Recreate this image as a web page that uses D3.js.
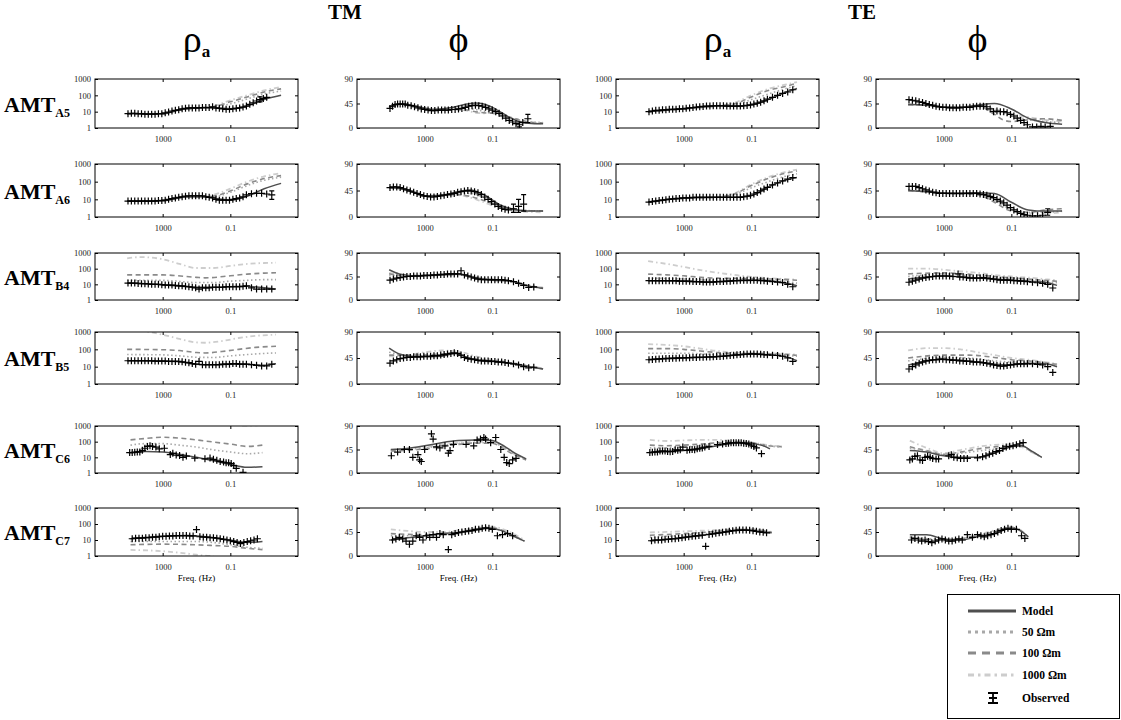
<!DOCTYPE html>
<html>
<head>
<meta charset="utf-8">
<script src="https://cdn.jsdelivr.net/npm/d3@7"></script>
<style>
  body { margin: 0; background: #fff; }
  text { font-family: "Liberation Serif", "Times New Roman", serif; }
</style>
</head>
<body>
<div id="chart"></div>
<script>
// frame and panel geometry
const FRAME_WIDTH = 1121;
const FRAME_HEIGHT = 720;
const COL_X = [95, 357, 616, 876];
const COL_W = 203;
const ROW_Y = [79, 164, 253, 332, 426, 508];
const ROW_H = [49, 53, 47, 52, 47, 48];

// labels
const stations = ["A5", "A6", "B4", "B5", "C6", "C7"];
const kinds = ["rho", "phi", "rho", "phi"];
const rhoTicks = [1, 10, 100, 1000];
const phiTicks = [0, 45, 90];
const freqTicks = [1000, 0.1];
const legendNames = ["Model", "50 \u03A9m", "100 \u03A9m", "1000 \u03A9m", "Observed"];

// data: [log10 freq, value] ; obs may carry [f, v, lo, hi] for error bars
const a5TmRho = {
  model: [[5.1,7.5],[4,7.5],[3,7.5],[2,13],[1,17],[0,17],[-1,15],[-2,22],[-3,55],[-4,100]],
  r50: [[5.1,7.5],[3,7.5],[2,13],[1,17],[0,19],[-1,30],[-2,60],[-3,120],[-4,180]],
  r100: [[5.1,7.5],[3,7.5],[2,13],[1,17],[0,20],[-1,40],[-2,80],[-3,160],[-4,250]],
  r1000: [[5.1,7.5],[3,7.5],[2,13],[1,17],[0,22],[-1,50],[-2,100],[-3,200],[-4,320]],
  obs: [[5.05,7.5],[4.85,8],[4.65,8],[4.45,7.5],[4.25,7.5],[4.05,7],[3.85,7],[3.65,7],[3.45,7],[3.25,7.5],[3.05,7.5],[2.85,8.5],[2.65,9.5],[2.45,11],[2.25,12],[2.05,13],[1.85,15],[1.65,16],[1.45,17],[1.25,17],[1.05,17],[0.85,17],[0.65,18],[0.45,18],[0.25,18],[0.05,20],[-0.15,17],[-0.35,16],[-0.55,15],[-0.75,14],[-0.95,14],[-1.15,15],[-1.35,16],[-1.55,17],[-1.75,19],[-1.95,22],[-2.15,28],[-2.35,35],[-2.55,45],[-2.75,55,40,80],[-2.95,65],[-3.15,75]]
};
const a5TmPhi = {
  model: [[5.1,38],[4.5,44],[3.5,40],[2.5,34],[1.5,37],[0.5,44],[0,46],[-0.5,44],[-1,38],[-2,20],[-2.8,10],[-3.5,8],[-4,8]],
  r50: [[5.1,38],[4.5,44],[3.5,40],[2.5,34],[1.5,35],[0.5,36],[0,34],[-0.5,31],[-1,30],[-2,20],[-3,12],[-4,10]],
  r100: [[5.1,38],[4.5,44],[3.5,40],[2.5,34],[1.5,34],[0.5,33],[0,30],[-0.5,28],[-1,27],[-2,20],[-3,12],[-4,9]],
  r1000: [[5.1,38],[4.5,44],[3.5,40],[2.5,34],[1.5,34],[0.5,32],[0,28],[-0.5,27],[-1,28],[-2,18],[-3,10],[-4,8]],
  obs: [[5.05,36],[4.9,40],[4.75,43],[4.6,44],[4.45,44],[4.3,44],[4.15,44],[4.0,42],[3.8,41],[3.6,39],[3.4,37],[3.2,35],[3.0,34],[2.8,33],[2.6,32],[2.4,32],[2.2,33],[2.0,33],[1.8,33],[1.6,33],[1.4,34],[1.2,34],[1.0,35],[0.8,36],[0.6,38],[0.4,40],[0.2,41],[0.0,42],[-0.2,41],[-0.4,40],[-0.6,38],[-0.8,35],[-1.0,33],[-1.2,30],[-1.4,27],[-1.6,22],[-1.8,18],[-2.0,14],[-2.2,11],[-2.4,8],[-2.6,6,2,11],[-2.8,10],[-3.1,17,10,25]]
};
const a5TeRho = {
  model: [[5.1,10],[3,15],[1,22],[-0.5,22],[-1.2,28],[-2,55],[-3,150],[-3.7,260]],
  r50: [[5.1,10],[3,15],[1,22],[0,26],[-1,55],[-2,120],[-3,250],[-3.7,400]],
  r100: [[5.1,10],[3,15],[1,23],[0,30],[-1,80],[-2,200],[-3,350],[-3.7,550]],
  r1000: [[5.1,10],[3,15],[1,23],[0,35],[-1,100],[-2,250],[-3,450],[-3.7,650]],
  obs: [[5.05,10],[4.85,11],[4.65,12],[4.45,12],[4.25,13],[4.05,13],[3.85,14],[3.65,14],[3.45,14],[3.25,15],[3.05,15],[2.85,16],[2.65,17],[2.45,18],[2.25,19],[2.05,20],[1.85,21],[1.65,22],[1.45,22],[1.25,23],[1.05,23],[0.85,23],[0.65,23],[0.45,22],[0.25,22],[0.05,22],[-0.15,22],[-0.35,22],[-0.55,23],[-0.75,24],[-0.95,26],[-1.15,29],[-1.35,33],[-1.55,38],[-1.75,46],[-1.95,58],[-2.25,75],[-2.55,100],[-2.85,130],[-3.15,160],[-3.45,220]]
};
const a5TePhi = {
  model: [[5.1,43],[4,42],[3,38],[2,38],[1,42],[0,45],[-1,35],[-2,18],[-3,10],[-4,7]],
  r50: [[5.1,43],[4,42],[3,38],[2,38],[1,40],[0,30],[-1,22],[-2,15],[-3,12],[-4,10]],
  r100: [[5.1,43],[4,42],[3,38],[2,38],[1,40],[0,25],[-0.5,15],[-1,12],[-2,15],[-3,17],[-4,14]],
  r1000: [[5.1,43],[4,42],[3,38],[2,38],[1,40],[0,35],[-1,25],[-2,20],[-3,15],[-4,12]],
  obs: [[5.05,52],[4.85,51],[4.65,50],[4.45,48],[4.25,47],[4.05,45],[3.85,43],[3.65,42],[3.45,40],[3.25,39],[3.05,38],[2.85,38],[2.65,37],[2.45,37],[2.25,37],[2.05,37],[1.85,38],[1.65,38],[1.45,38],[1.25,39],[1.05,40],[0.85,40],[0.65,40],[0.45,39],[0.25,35],[0.05,30],[-0.15,31],[-0.35,30],[-0.55,30],[-0.75,28],[-0.95,25],[-1.15,22],[-1.35,18],[-1.55,14],[-1.75,10],[-1.95,6],[-2.25,2],[-2.5,2],[-2.75,3],[-3.0,2],[-3.3,3]]
};

const a6TmRho = {
  model: [[5.1,8],[3,8.5],[1.5,14],[0.5,14],[-0.5,10],[-1,9],[-2,15],[-3,40],[-4,80]],
  r50: [[5.1,8],[3,8.5],[1.5,14],[0.5,14],[0,14],[-1,25],[-2,60],[-3,120],[-4,180]],
  r100: [[5.1,8],[3,8.5],[1.5,14],[0.5,14],[0,15],[-1,30],[-2,75],[-3,150],[-4,220]],
  r1000: [[5.1,8],[3,8.5],[1.5,14],[0.5,15],[0,18],[-1,40],[-2,100],[-3,200],[-4,300]],
  obs: [[5.05,8],[4.85,8],[4.65,8],[4.45,8],[4.25,8],[4.05,8],[3.85,8],[3.65,8],[3.45,8],[3.25,8.5],[3.05,8.5],[2.85,9],[2.65,10],[2.45,11],[2.25,12],[2.05,13],[1.85,14],[1.65,15],[1.45,16],[1.25,16],[1.05,16],[0.85,16],[0.65,16],[0.45,14],[0.25,13],[0.05,12],[-0.15,10],[-0.35,9],[-0.55,9],[-0.75,9],[-0.95,9],[-1.15,10],[-1.35,11],[-1.55,12],[-1.75,14],[-1.95,18],[-2.25,21],[-2.55,22],[-2.85,22],[-3.15,20],[-3.45,18,10,30]]
};
const a6TmPhi = {
  model: [[5.1,50],[4,46],[3,36],[2,37],[1,43],[0.3,46],[-0.5,38],[-1.5,20],[-2.5,12],[-3.5,10],[-4,10]],
  r50: [[5.1,50],[4,46],[3,36],[2,37],[1,40],[0.3,40],[-0.5,33],[-1.5,18],[-2.5,12],[-4,10]],
  r100: [[5.1,50],[4,46],[3,36],[2,37],[1,38],[0.3,35],[-0.5,28],[-1.5,18],[-2.5,12],[-4,10]],
  r1000: [[5.1,50],[4,46],[3,36],[2,36],[1,37],[0.3,33],[-0.5,25],[-1.5,15],[-2.5,10],[-4,8]],
  obs: [[5.05,50],[4.85,51],[4.65,51],[4.45,50],[4.25,48],[4.05,46],[3.85,44],[3.65,42],[3.45,40],[3.25,38],[3.05,36],[2.85,35],[2.65,34],[2.45,34],[2.25,35],[2.05,36],[1.85,37],[1.65,38],[1.45,39],[1.25,40],[1.05,42],[0.85,43],[0.65,44],[0.45,45],[0.25,44],[0.05,43],[-0.15,41],[-0.35,38],[-0.55,34],[-0.75,30],[-0.95,26],[-1.15,22],[-1.35,18],[-1.55,15],[-1.75,13],[-1.95,12],[-2.25,14,8,22],[-2.55,18,8,30],[-2.85,22,10,38]]
};
const a6TeRho = {
  model: [[5.1,7],[3,12],[1,13],[0,13],[-1,16],[-2,50],[-3,120],[-3.7,170]],
  r50: [[5.1,7],[3,12],[1,13],[0,18],[-1,45],[-2,100],[-3,200],[-3.7,280]],
  r100: [[5.1,7],[3,12],[1,13],[0,20],[-1,60],[-2,150],[-3,300],[-3.7,400]],
  r1000: [[5.1,7],[3,12],[1,14],[0,22],[-1,70],[-2,180],[-3,350],[-3.7,480]],
  obs: [[5.05,7],[4.85,7.5],[4.65,8],[4.45,8.5],[4.25,9],[4.05,9.5],[3.85,10],[3.65,10.5],[3.45,11],[3.25,11],[3.05,12],[2.85,12],[2.65,12],[2.45,13],[2.25,13],[2.05,13],[1.85,13],[1.65,13],[1.45,13],[1.25,13],[1.05,13],[0.85,13],[0.65,13],[0.45,13],[0.25,13],[0.05,13],[-0.15,13],[-0.35,13],[-0.55,14],[-0.75,15],[-0.95,17],[-1.15,20],[-1.35,24],[-1.55,30],[-1.75,38],[-1.95,48],[-2.25,65],[-2.55,85],[-2.85,110],[-3.15,140],[-3.45,170]]
};
const a6TePhi = {
  model: [[5.1,45],[4,43],[2.5,40],[1,41],[0,40],[-1,25],[-2,12],[-3,10],[-4,10]],
  r50: [[5.1,45],[4,43],[2.5,40],[1,38],[0,30],[-1,15],[-2,8],[-3,8],[-4,10]],
  r100: [[5.1,45],[4,43],[2.5,40],[1,38],[0,25],[-1,10],[-2,8],[-3,12],[-4,14]],
  r1000: [[5.1,45],[4,43],[2.5,40],[1,39],[0,28],[-1,12],[-2,6],[-3,6],[-4,8]],
  obs: [[5.05,52],[4.85,52],[4.65,52],[4.45,50],[4.25,48],[4.05,46],[3.85,44],[3.65,42],[3.45,41],[3.25,40],[3.05,40],[2.85,40],[2.65,40],[2.45,40],[2.25,40],[2.05,40],[1.85,40],[1.65,40],[1.45,40],[1.25,40],[1.05,40],[0.85,39],[0.65,38],[0.45,37],[0.25,35],[0.05,33],[-0.15,30],[-0.35,27],[-0.55,24],[-0.75,20],[-0.95,16],[-1.15,12],[-1.35,9],[-1.55,6],[-1.75,4],[-1.95,3],[-2.25,2],[-2.55,2],[-2.85,3],[-3.15,8,3,14]]
};

const b4TmRho = {
  model: [[5.1,12],[3,9.5],[1,6.5],[0,6.5],[-1,7],[-2,7.5],[-3,6],[-3.7,5]],
  r50: [[5.1,18],[3,18],[1,13],[0,13],[-1,16],[-2,18],[-3,20],[-3.7,20]],
  r100: [[5.1,40],[3,40],[1,28],[0.5,26],[-1,35],[-2,45],[-3,52],[-3.7,55]],
  r1000: [[5.1,450],[4.3,550],[3,400],[2,200],[1,110],[0,110],[-1,150],[-2,200],[-3,230],[-3.7,240]],
  obs: [[5.05,12],[4.85,12],[4.65,12],[4.45,11.5],[4.25,11],[4.05,11],[3.85,10.5],[3.65,10],[3.45,10],[3.25,10],[3.05,9.5],[2.85,9],[2.65,9],[2.45,9],[2.25,8.5],[2.05,8],[1.85,8],[1.65,7.5],[1.45,7],[1.25,6.5],[1.05,6],[0.85,5],[0.65,6],[0.45,6],[0.25,6],[0.05,6.5],[-0.15,6.5],[-0.35,6.5],[-0.55,6.5],[-0.75,7],[-0.95,7],[-1.15,7],[-1.35,7],[-1.55,7],[-1.75,7.5],[-1.95,8],[-2.25,6],[-2.55,5],[-2.85,5],[-3.15,5],[-3.45,5]]
};
const b4TmPhi = {
  model: [[5.1,58],[4.5,50],[3.5,46],[2,48],[1,50],[0,42],[-1,38],[-2,37],[-3,28],[-4,22]],
  r50: [[5.1,48],[4,45],[2,48],[1,50],[0,43],[-1,39],[-2,37],[-3,28],[-4,22]],
  r100: [[5.1,50],[4,46],[2,48],[1,49],[0,43],[-1,39],[-2,36],[-3,28],[-4,23]],
  r1000: [[5.1,52],[4,47],[2,48],[1,49],[0,44],[-1,40],[-2,37],[-3,29],[-4,24]],
  obs: [[5.05,38],[4.85,40],[4.65,42],[4.45,43],[4.25,44],[4.05,45],[3.85,45],[3.65,46],[3.45,46],[3.25,46],[3.05,47],[2.85,47],[2.65,47],[2.45,48],[2.25,48],[2.05,49],[1.85,49],[1.65,50],[1.45,50],[1.25,50],[1.05,50],[0.85,56],[0.65,48],[0.45,46],[0.25,44],[0.05,42],[-0.15,40],[-0.35,39],[-0.55,39],[-0.75,39],[-0.95,39],[-1.15,39],[-1.35,39],[-1.55,39],[-1.75,38],[-1.95,37],[-2.25,35],[-2.55,32],[-2.85,28],[-3.15,24],[-3.45,25]]
};
const b4TeRho = {
  model: [[5.1,17],[3,16],[1.5,14],[0,17],[-1.5,18],[-3,12],[-3.7,8]],
  r50: [[5.1,25],[3,22],[1,18],[0,19],[-2,19],[-3,15],[-3.7,12]],
  r100: [[5.1,45],[4,40],[3,35],[2,28],[1,25],[0,24],[-2,22],[-3,20],[-3.7,18]],
  r1000: [[5.1,300],[4,200],[3,130],[2,80],[1,55],[0,40],[-1,30],[-2,25],[-3,22],[-3.7,20]],
  obs: [[5.05,17],[4.85,17],[4.65,17],[4.45,17],[4.25,17],[4.05,17],[3.85,17],[3.65,17],[3.45,17],[3.25,16],[3.05,16],[2.85,16],[2.65,16],[2.45,15],[2.25,15],[2.05,15],[1.85,14],[1.65,14],[1.45,14],[1.25,14],[1.05,15],[0.85,15],[0.65,15],[0.45,16],[0.25,16],[0.05,17],[-0.15,17],[-0.35,18],[-0.55,18],[-0.75,18],[-0.95,18],[-1.15,18],[-1.35,18],[-1.55,17],[-1.75,17],[-1.95,16],[-2.25,15],[-2.55,14],[-2.85,13],[-3.15,10],[-3.45,7]]
};
const b4TePhi = {
  model: [[5.1,40],[4,44],[3,46],[2,44],[1,42],[0,40],[-1,38],[-2,36],[-3,34],[-3.7,28]],
  r50: [[5.1,45],[3,50],[1,45],[-1,41],[-3.7,33]],
  r100: [[5.1,50],[3,52],[1,48],[0,45],[-2,40],[-3.7,36]],
  r1000: [[5.1,60],[4,60],[3,58],[2,55],[1,52],[0,48],[-1,45],[-2,43],[-3,40],[-3.7,38]],
  obs: [[5.05,34],[4.85,36],[4.65,38],[4.45,40],[4.25,42],[4.05,43],[3.85,44],[3.65,45],[3.45,46],[3.25,46],[3.05,46],[2.85,46],[2.65,46],[2.45,45],[2.15,50],[2.05,44],[1.85,44],[1.65,43],[1.45,42],[1.25,42],[1.05,42],[0.85,42],[0.65,43],[0.45,42],[0.25,41],[0.05,40],[-0.15,39],[-0.35,38],[-0.55,38],[-0.75,38],[-0.95,38],[-1.15,37],[-1.35,37],[-1.55,36],[-1.75,36],[-1.95,35],[-2.25,34],[-2.55,33],[-2.85,32],[-3.15,30],[-3.45,23]]
};

const b5TmRho = {
  model: [[5.1,22],[3,21],[2,19],[1,14],[0,13],[-1,14],[-2,14],[-3,12],[-3.7,15]],
  r50: [[5.1,50],[3,48],[2,42],[1,35],[0,34],[-1,42],[-2,50],[-3,58],[-3.7,62]],
  r100: [[5.1,100],[3,95],[2,85],[1,65],[0.5,62],[-0.5,75],[-1.5,100],[-2.5,130],[-3.7,150]],
  r1000: [[5.1,1500],[4,1100],[3,700],[2,400],[1,250],[0.5,240],[-0.5,300],[-1.5,450],[-2.5,600],[-3.7,700]],
  obs: [[5.05,22],[4.85,22],[4.65,22],[4.45,22],[4.25,22],[4.05,22],[3.85,22],[3.65,22],[3.45,21],[3.25,21],[3.05,21],[2.85,21],[2.65,20],[2.45,20],[2.25,20],[2.05,20],[1.85,19],[1.65,18],[1.45,17],[1.25,15],[1.05,14],[0.85,20],[0.65,13],[0.45,13],[0.25,13],[0.05,13],[-0.15,13],[-0.35,13],[-0.55,14],[-0.75,14],[-0.95,14],[-1.15,15],[-1.35,15],[-1.55,14],[-1.75,14],[-1.95,14],[-2.25,13],[-2.55,12],[-2.85,11],[-3.15,11],[-3.45,14]]
};
const b5TmPhi = {
  model: [[5.1,62],[4.5,52],[3.5,47],[2,48],[1.2,53],[0.5,46],[-0.5,40],[-1.5,38],[-2.5,34],[-3.5,28],[-4,26]],
  r50: [[5.1,55],[3.5,48],[1.5,52],[0.5,45],[-1,40],[-2.5,34],[-4,26]],
  r100: [[5.1,50],[3,50],[1.5,53],[0.5,46],[-1,40],[-2.5,34],[-4,26]],
  r1000: [[5.1,48],[4,50],[3,55],[2,58],[1,56],[0,48],[-1,42],[-2,38],[-3,32],[-4,27]],
  obs: [[5.05,36],[4.85,40],[4.65,42],[4.45,44],[4.25,45],[4.05,46],[3.85,46],[3.65,47],[3.45,47],[3.25,47],[3.05,48],[2.85,48],[2.65,48],[2.45,49],[2.25,49],[2.05,50],[1.85,51],[1.65,52],[1.45,53],[1.25,54],[1.05,53],[0.85,50],[0.65,46],[0.45,44],[0.25,43],[0.05,42],[-0.15,41],[-0.35,40],[-0.55,40],[-0.75,40],[-0.95,39],[-1.15,39],[-1.35,38],[-1.55,38],[-1.75,37],[-1.95,36],[-2.25,35],[-2.55,33],[-2.85,30],[-3.15,28],[-3.45,29]]
};
const b5TeRho = {
  model: [[5.1,25],[3,32],[1,38],[0,46],[-1,54],[-2,48],[-3,38],[-3.7,22]],
  r50: [[5.1,60],[3,60],[1,50],[0,50],[-1,55],[-3,45],[-3.7,40]],
  r100: [[5.1,110],[4,110],[3,100],[2,80],[1,65],[0,58],[-1,58],[-2,55],[-3,50],[-3.7,45]],
  r1000: [[5.1,200],[4,180],[3,150],[2,110],[1,80],[0,65],[-1,60],[-2,58],[-3,55],[-3.7,50]],
  obs: [[5.05,25],[4.85,26],[4.65,27],[4.45,28],[4.25,29],[4.05,30],[3.85,30],[3.65,31],[3.45,31],[3.25,32],[3.05,32],[2.85,33],[2.65,33],[2.45,34],[2.25,34],[2.05,35],[1.85,35],[1.65,36],[1.45,36],[1.25,37],[1.05,38],[0.85,39],[0.65,40],[0.45,42],[0.25,44],[0.05,46],[-0.15,48],[-0.35,50],[-0.55,52],[-0.75,53],[-0.95,54],[-1.15,54],[-1.35,53],[-1.55,52],[-1.75,50],[-1.95,48],[-2.25,46],[-2.55,44],[-2.85,40],[-3.15,32],[-3.45,20]]
};
const b5TePhi = {
  model: [[5.1,33],[4,40],[3,43],[1.5,40],[0,34],[-1,33],[-2,36],[-3,35],[-3.7,30]],
  r50: [[5.1,40],[3,46],[1.5,45],[0,40],[-1,38],[-3,37],[-3.7,33]],
  r100: [[5.1,45],[3,50],[1.5,50],[0,46],[-1,42],[-2,40],[-3.7,34]],
  r1000: [[5.1,58],[4,62],[3,62],[2,60],[1,55],[0,50],[-1,45],[-2,42],[-3,38],[-3.7,35]],
  obs: [[5.05,26],[4.85,30],[4.65,33],[4.45,36],[4.25,38],[4.05,40],[3.85,41],[3.65,42],[3.45,42],[3.25,43],[3.05,43],[2.85,42],[2.65,42],[2.45,41],[2.25,41],[2.05,40],[1.85,40],[1.65,39],[1.45,39],[1.25,38],[1.05,38],[0.85,38],[0.65,37],[0.45,36],[0.25,35],[0.05,33],[-0.15,32],[-0.35,31],[-0.55,31],[-0.75,32],[-0.95,33],[-1.15,34],[-1.35,35],[-1.55,35],[-1.75,35],[-1.95,35],[-2.25,35],[-2.55,34],[-2.85,33],[-3.15,30],[-3.45,20]]
};

const c6TmRho = {
  model: [[4.9,20],[4,24],[3,22],[2,16],[1,10],[0,6],[-1,3.5],[-2,2.3],[-2.9,2.5]],
  r50: [[4.9,60],[4,75],[3,75],[2,60],[1,45],[0,30],[-1,22],[-2,17],[-2.9,20]],
  r100: [[4.9,130],[4,160],[3,190],[2,170],[1,130],[0,95],[-1,70],[-2,50],[-2.9,60]],
  r1000: [[4.9,4000],[3,5000],[1,3000],[-1,1500],[-1.8,1050],[-2.5,1100],[-2.9,1300]],
  obs: [[4.95,20],[4.8,20],[4.65,21],[4.5,22],[4.35,22],[4.2,28],[4.05,38],[3.9,50],[3.75,55],[3.6,50],[3.4,45],[3.2,35],[2.9,38],[2.55,15],[2.4,18],[2.2,14],[2.0,13],[1.8,10],[1.6,12],[1.1,9],[0.5,8],[0.2,9],[0.0,7.5],[-0.2,6.5],[-0.4,5.5],[-0.6,5],[-0.75,4.5],[-0.9,4.5],[-1.05,4],[-1.2,3],[-1.35,2],[-1.75,1.1]]
};
const c6TmPhi = {
  model: [[5,45],[4,47],[3,52],[2,58],[1,62],[0,63],[-1,62],[-1.5,55],[-2,45],[-2.5,35],[-3,27]],
  r50: [[5,44],[3,48],[1.5,55],[0,58],[-1,58],[-1.5,52],[-2,42],[-2.5,33],[-3,26]],
  r100: [[5,42],[3,46],[1.5,53],[0,57],[-1,57],[-1.5,50],[-2,40],[-3,25]],
  r1000: [[5,44],[3,50],[1.5,56],[0,60],[-1,60],[-1.5,52],[-2,42],[-3,26]],
  obs: [[4.97,33],[4.6,40],[4.2,45],[3.9,45],[3.7,30],[3.4,35],[3.3,25],[3.2,22],[3.0,45],[2.6,75],[2.5,65],[2.3,50],[2.1,48],[1.8,52],[1.6,38],[1.5,43],[1.3,55],[0.55,55],[0.1,52],[-0.1,63],[-0.3,65],[-0.5,68],[-0.6,65],[-0.9,58],[-1.2,68],[-1.5,45],[-1.7,30],[-1.85,20],[-2.0,18],[-2.2,25],[-2.4,28]]
};
const c6TeRho = {
  model: [[5,20],[4,23],[3,27],[2,35],[1,55],[0,80],[-0.7,85],[-1.3,70],[-1.8,50],[-2.1,35]],
  r50: [[5,40],[4,40],[3,45],[2,55],[1,70],[0,88],[-1,82],[-2,52],[-2.8,46]],
  r100: [[5,60],[4,55],[3,60],[2,70],[1,85],[0,95],[-1,85],[-2,55],[-2.8,48]],
  r1000: [[5,130],[4,110],[3,120],[2,130],[1,130],[0,110],[-1,90],[-2,60],[-2.8,50]],
  obs: [[5.0,20],[4.85,21],[4.7,22],[4.55,22],[4.4,25],[4.25,25],[4.1,25],[3.95,24],[3.8,23],[3.65,24],[3.5,30],[3.35,28],[3.2,30],[3.05,45],[2.8,28],[2.65,30],[2.5,32],[2.35,30],[2.2,35],[2.05,38],[1.9,40],[1.75,45],[1.5,50],[1.0,65],[0.7,70],[0.5,75],[0.35,80],[0.2,85],[0.05,85],[-0.1,85],[-0.25,85],[-0.4,85],[-0.55,80],[-0.7,75],[-0.85,70],[-1.0,60],[-1.15,50],[-1.3,40],[-1.6,17]]
};
const c6TePhi = {
  model: [[5,43],[4,40],[3,33],[2,30],[1,30],[0,38],[-1,50],[-1.6,52],[-2.2,42],[-2.8,30]],
  r50: [[5,48],[4,42],[3,35],[2,38],[1,42],[0,46],[-1,50],[-1.6,52],[-2.2,41],[-2.8,30]],
  r100: [[5,50],[4,43],[3,36],[2,40],[1,46],[0,50],[-1,52],[-1.6,52],[-2.2,41],[-2.8,30]],
  r1000: [[5,62],[4,48],[3,38],[2,44],[1,50],[0,54],[-1,55],[-1.6,50],[-2.2,40],[-2.8,30]],
  obs: [[5.0,25],[4.85,27],[4.7,32],[4.55,33],[4.4,25],[4.25,24],[4.1,30],[3.95,32],[3.8,30],[3.65,28],[3.45,27],[3.3,27],[2.7,33],[2.55,35],[2.4,30],[2.2,29],[2.0,28],[1.8,28],[1.6,28],[1.0,29],[0.7,31],[0.5,33],[0.3,36],[0.1,38],[-0.1,41],[-0.3,43],[-0.5,47],[-0.7,50],[-0.9,51],[-1.1,52],[-1.3,54],[-1.5,56],[-1.7,58]]
};

const c7TmRho = {
  model: [[4.9,12],[3,17],[1.5,19],[0,14],[-1,10],[-2,7],[-2.9,8]],
  r50: [[4.9,8],[3,8],[1,8],[0,7],[-1,5],[-2,3.5],[-2.9,3]],
  r100: [[4.9,5],[3,5.5],[1,5],[0,4.5],[-1,4],[-2,3],[-2.9,2.5]],
  r1000: [[4.9,2.4],[3,2],[2,1.6],[1,1.2],[0.5,1.05],[0,1]],
  obs: [[4.8,12],[4.6,13],[4.4,13],[4.2,13],[4.0,14],[3.8,14],[3.6,15],[3.4,15],[3.2,16],[3.0,17],[2.8,17],[2.6,18],[2.4,18],[2.2,19],[2.0,19],[1.8,19],[1.6,19],[1.4,18],[1.2,18],[1.0,45],[0.8,16],[0.6,15],[0.4,15],[0.2,14],[0.0,14],[-0.2,13],[-0.4,12],[-0.6,11],[-0.8,10],[-1.0,9],[-1.2,8],[-1.4,7],[-1.6,6],[-1.8,7],[-2.0,8],[-2.2,9],[-2.4,10],[-2.6,12]]
};
const c7TmPhi = {
  model: [[5,30],[4,34],[3,38],[2,42],[1,44],[0,48],[-0.8,52],[-1.5,48],[-2.2,38],[-2.9,28]],
  r50: [[5,38],[3,38],[1,44],[-1,52],[-2,40],[-2.9,28]],
  r100: [[5,42],[3,40],[1,44],[0,50],[-1,53],[-2,42],[-2.9,28]],
  r1000: [[5,50],[4,47],[3,45],[2,45],[1,48],[0,52],[-1,55],[-1.8,48],[-2.9,30]],
  obs: [[4.9,30],[4.7,32],[4.5,35],[4.3,32],[4.1,28],[3.9,22],[3.7,28],[3.5,38],[3.3,35],[3.1,30],[2.9,38],[2.7,35],[2.5,40],[2.3,35],[2.1,42],[1.9,40],[1.6,12],[1.4,40],[1.2,42],[1.0,44],[0.8,45],[0.6,46],[0.4,47],[0.2,48],[0.0,50],[-0.2,50],[-0.4,52],[-0.6,53],[-0.8,52],[-1.0,50],[-1.3,38],[-1.6,40],[-1.9,42],[-2.2,38]]
};
const c7TeRho = {
  model: [[5,9],[3,14],[1,26],[0,38],[-0.6,42],[-1.5,32],[-2.2,28]],
  r50: [[5,15],[3,20],[1,30],[0,42],[-1,43],[-2.2,29]],
  r100: [[5,20],[3,25],[1,35],[0,45],[-1,45],[-2.2,30]],
  r1000: [[5,30],[4,32],[3,35],[2,38],[1,42],[0,48],[-1,48],[-2,35],[-2.2,32]],
  obs: [[4.9,9],[4.7,10],[4.5,10],[4.3,10],[4.1,11],[3.9,11],[3.7,12],[3.5,12],[3.3,13],[3.1,14],[2.9,15],[2.7,16],[2.5,17],[2.3,18],[2.1,19],[1.9,20],[1.7,4],[1.5,22],[1.3,24],[1.1,26],[0.9,28],[0.7,30],[0.5,32],[0.3,35],[0.1,38],[-0.1,40],[-0.3,42],[-0.5,42],[-0.7,42],[-0.9,40],[-1.1,38],[-1.3,35],[-1.5,32],[-1.7,30],[-1.9,28]]
};
const c7TePhi = {
  model: [[5,40],[4,40],[3,32],[2,30],[1,36],[0,42],[-1,52],[-1.5,48],[-2,36]],
  r50: [[5,36],[3,31],[1,38],[0,45],[-1,53],[-2,36]],
  r100: [[5,35],[3,30],[1,38],[0,46],[-1,54],[-2,36]],
  r1000: [[5,32],[4,30],[3,28],[2,32],[1,40],[0,48],[-1,55],[-1.5,50],[-2,35]],
  obs: [[4.9,30],[4.7,33],[4.5,30],[4.3,28],[4.1,30],[3.9,27],[3.7,25],[3.5,28],[3.3,30],[3.1,32],[2.9,30],[2.7,28],[2.5,28],[2.3,30],[2.1,32],[1.9,30],[1.6,40],[1.3,35],[1.0,40],[0.8,38],[0.6,36],[0.4,38],[0.2,40],[0.0,42],[-0.2,45],[-0.4,48],[-0.6,50],[-0.8,52],[-1.0,50],[-1.3,50],[-1.6,38],[-1.8,33]]
};

const panels = [
  [a5TmRho, a5TmPhi, a5TeRho, a5TePhi],
  [a6TmRho, a6TmPhi, a6TeRho, a6TePhi],
  [b4TmRho, b4TmPhi, b4TeRho, b4TePhi],
  [b5TmRho, b5TmPhi, b5TeRho, b5TePhi],
  [c6TmRho, c6TmPhi, c6TeRho, c6TePhi],
  [c7TmRho, c7TmPhi, c7TeRho, c7TePhi]
];

// line styles for the curves
const STYLES = {
  r1000: {stroke: "#cdcdcd", width: 1.8, dash: "5,3,1.5,3"},
  r100:  {stroke: "#8a8a8a", width: 1.6, dash: "5,3.5"},
  r50:   {stroke: "#a8a8a8", width: 1.6, dash: "1.5,2.5"},
  model: {stroke: "#4f4f4f", width: 1.5, dash: null}
};

const FRAME = d3.select("#chart")
  .append("svg")
    .attr("width", FRAME_WIDTH)
    .attr("height", FRAME_HEIGHT);

// headers
FRAME.append("text").attr("x", 345).attr("y", 19).attr("text-anchor", "middle")
  .attr("font-size", 21).attr("font-weight", "bold").text("TM");
FRAME.append("text").attr("x", 862).attr("y", 19).attr("text-anchor", "middle")
  .attr("font-size", 21).attr("font-weight", "bold").text("TE");

COL_X.forEach((cx, i) => {
  const t = FRAME.append("text")
    .attr("x", cx + COL_W / 2)
    .attr("y", 52)
    .attr("text-anchor", "middle")
    .attr("font-size", 38);
  if (kinds[i] === "rho") {
    t.append("tspan").text("\u03C1");
    t.append("tspan").attr("font-size", 17).attr("font-weight", "bold").attr("dy", 5).text("a");
  } else {
    t.text("\u03D5");
  }
});

// row labels
stations.forEach((s, r) => {
  const t = FRAME.append("text")
    .attr("x", 4)
    .attr("y", ROW_Y[r] + ROW_H[r] / 2 + 8)
    .attr("font-size", 22)
    .attr("font-weight", "bold");
  t.append("tspan").text("AMT");
  t.append("tspan").attr("font-size", 12).attr("dy", 5).text(s);
});

function build_panel(def, r, c) {
  const x0 = COL_X[c], y0 = ROW_Y[r], h = ROW_H[r];
  const kind = kinds[c];
  const X_SCALE = d3.scaleLog().domain([1e7, 1e-5]).range([x0, x0 + COL_W]);
  const Y_SCALE = kind === "rho"
    ? d3.scaleLog().domain([1, 1000]).range([y0 + h, y0])
    : d3.scaleLinear().domain([0, 90]).range([y0 + h, y0]);
  const yTicks = kind === "rho" ? rhoTicks : phiTicks;

  const g = FRAME.append("g");
  const clipId = "clip-" + r + "-" + c;
  g.append("clipPath").attr("id", clipId)
    .append("rect").attr("x", x0).attr("y", y0).attr("width", COL_W).attr("height", h);

  // axes (ticks pointing inward)
  const fmt = (d) => d >= 1 ? d3.format("d")(d) : String(d);
  g.append("g").attr("transform", "translate(0," + (y0 + h) + ")")
    .call(d3.axisBottom(X_SCALE).tickValues(freqTicks).tickFormat(fmt).tickSizeInner(-3).tickSizeOuter(0).tickPadding(8))
    .call(a => a.select(".domain").remove());
  g.append("g").attr("transform", "translate(0," + y0 + ")")
    .call(d3.axisTop(X_SCALE).tickValues(freqTicks).tickFormat("").tickSizeInner(-3).tickSizeOuter(0))
    .call(a => a.select(".domain").remove());
  g.append("g").attr("transform", "translate(" + x0 + ",0)")
    .call(d3.axisLeft(Y_SCALE).tickValues(yTicks).tickFormat(d3.format("d")).tickSizeInner(-3).tickSizeOuter(0).tickPadding(4))
    .call(a => a.select(".domain").remove());
  g.append("g").attr("transform", "translate(" + (x0 + COL_W) + ",0)")
    .call(d3.axisRight(Y_SCALE).tickValues(yTicks).tickFormat("").tickSizeInner(-3).tickSizeOuter(0))
    .call(a => a.select(".domain").remove());
  g.selectAll(".tick text").attr("font-size", 8.5).attr("font-family", "Liberation Serif, serif").attr("fill", "#222");
  g.selectAll(".tick line").attr("stroke", "#000");

  // curves
  const line = d3.line()
    .x((d) => X_SCALE(Math.pow(10, d[0])))
    .y((d) => Y_SCALE(d[1]))
    .curve(d3.curveMonotoneX);
  const plot = g.append("g").attr("clip-path", "url(#" + clipId + ")");
  ["r1000", "r100", "r50", "model"].forEach((k) => {
    const st = STYLES[k];
    plot.append("path")
      .datum(def[k])
      .attr("d", line)
      .attr("fill", "none")
      .attr("stroke", st.stroke)
      .attr("stroke-width", st.width)
      .attr("stroke-dasharray", st.dash);
  });

  // observed: crosses with optional error bars
  plot.selectAll(".obs")
    .data(def.obs)
    .enter()
    .append("path")
      .attr("class", "obs")
      .attr("d", (d) => {
        const px = X_SCALE(Math.pow(10, d[0])), py = Y_SCALE(d[1]);
        let p = "M" + (px - 3.5) + "," + py + "H" + (px + 3.5) + "M" + px + "," + (py - 3.5) + "V" + (py + 3.5);
        if (d.length > 2) {
          const lo = Y_SCALE(d[2]), hi = Y_SCALE(d[3]);
          p += "M" + px + "," + lo + "V" + hi + "M" + (px - 2.5) + "," + lo + "H" + (px + 2.5) + "M" + (px - 2.5) + "," + hi + "H" + (px + 2.5);
        }
        return p;
      })
      .attr("fill", "none")
      .attr("stroke", "#000")
      .attr("stroke-width", 1.2);

  // frame
  g.append("rect")
    .attr("x", x0).attr("y", y0).attr("width", COL_W).attr("height", h)
    .attr("fill", "none").attr("stroke", "#000").attr("stroke-width", 1);

  if (r === stations.length - 1) {
    g.append("text")
      .attr("x", x0 + COL_W / 2)
      .attr("y", y0 + h + 25)
      .attr("text-anchor", "middle")
      .attr("font-size", 9)
      .text("Freq. (Hz)");
  }
}

panels.forEach((row, r) => row.forEach((def, c) => build_panel(def, r, c)));

// legend
const LEG = FRAME.append("g");
LEG.append("rect").attr("x", 947.5).attr("y", 594.5).attr("width", 172).attr("height", 124)
  .attr("fill", "#fff").attr("stroke", "#000").attr("stroke-width", 1);
const legYs = [611, 632, 653, 675, 698];
const legKeys = ["model", "r50", "r100", "r1000"];
const legDash = {model: null, r50: "3,4", r100: "8,6", r1000: "6,4,2.5,4"};
legKeys.forEach((k, i) => {
  LEG.append("line")
    .attr("x1", 968).attr("x2", 1016).attr("y1", legYs[i]).attr("y2", legYs[i])
    .attr("stroke", STYLES[k].stroke).attr("stroke-width", 3.2)
    .attr("stroke-dasharray", legDash[k]);
});
LEG.append("path")
  .attr("d", "M988,693H998M988,703H998M993,693V703M989,698H997")
  .attr("stroke", "#000").attr("stroke-width", 1.8).attr("fill", "none");
legendNames.forEach((n, i) => {
  LEG.append("text")
    .attr("x", 1022).attr("y", legYs[i] + 4)
    .attr("font-size", 11.5).attr("font-weight", "bold")
    .text(n);
});
</script>
</body>
</html>
